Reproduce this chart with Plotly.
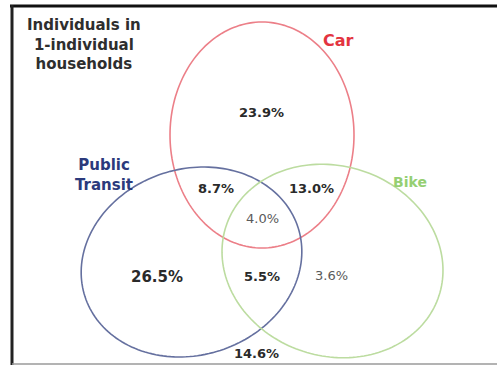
import numpy as np
import plotly.graph_objects as go

# ---- data ----
sets = ["Car", "Public<br>Transit", "Bike"]
region_labels = ["Car only", "Transit only", "Bike only", "Car+Transit", "Car+Bike",
                 "Transit+Bike", "All three", "None"]
region_values = [23.9, 26.5, 3.6, 8.7, 13.0, 5.5, 4.0, 14.6]
title_text = "Individuals in<br>1-individual<br>households"

# ---- layout (pixel coordinates) ----
W, H = 497, 366
ell_cx = [262, 191.5, 332.5]
ell_cy = [135, 262, 261]
ell_a = [92, 112, 112]
ell_b = [113, 93, 95]
ell_rot = [0, -18, 18]
ell_color = ["#ec7f88", "#65709f", "#bcdca0"]
set_color = ["#e3343f", "#2b3a7c", "#95cf72"]
set_pos = [(338, 40), (104, 175), (410, 182)]
set_size = [16, 15, 14]

region_pos = [(261, 112), (157, 277), (331, 275), (216, 188), (311, 188),
              (262, 276), (262, 218), (256, 353)]
region_bold = [True, True, False, True, True, True, False, True]
region_size = [13, 15, 13, 13, 13, 13, 13, 13]

fig = go.Figure()
fig.add_trace(go.Scatter(x=[0, W], y=[0, H], mode="markers",
                         marker=dict(opacity=0), hoverinfo="skip", showlegend=False))

shapes = []
t = np.linspace(0, 2 * np.pi, 181)
for cx, cy, a, b, rot, col in zip(ell_cx, ell_cy, ell_a, ell_b, ell_rot, ell_color):
    th = np.deg2rad(rot)
    xs = cx + a * np.cos(t) * np.cos(th) - b * np.sin(t) * np.sin(th)
    ys = cy + a * np.cos(t) * np.sin(th) + b * np.sin(t) * np.cos(th)
    path = "M " + " L ".join(f"{x:.2f},{y:.2f}" for x, y in zip(xs, ys)) + " Z"
    shapes.append(dict(type="path", path=path, line=dict(color=col, width=1.6),
                       xref="x", yref="y"))

# frame
shapes.append(dict(type="line", x0=10, x1=W, y0=6, y1=6, line=dict(color="#111", width=3)))
shapes.append(dict(type="line", x0=12, x1=12, y0=5, y1=365, line=dict(color="#222", width=3)))
shapes.append(dict(type="line", x0=12, x1=W, y0=364, y1=364, line=dict(color="#9a9a9a", width=1.5)))

ann = []
font_fam = "DejaVu Sans"
ann.append(dict(x=84, y=44, text="<b>" + title_text + "</b>", showarrow=False,
                font=dict(family=font_fam, size=15, color="#2e2e2e"), align="center"))
for name, (x, y), col, sz in zip(sets, set_pos, set_color, set_size):
    ann.append(dict(x=x, y=y, text="<b>" + name + "</b>", showarrow=False,
                    font=dict(family=font_fam, size=sz, color=col), align="center"))
for v, (x, y), bold, sz in zip(region_values, region_pos, region_bold, region_size):
    txt = f"{v:.1f}%"
    if bold:
        txt = "<b>" + txt + "</b>"
    ann.append(dict(x=x, y=y, text=txt, showarrow=False,
                    font=dict(family=font_fam, size=sz, color="#2a2a2a" if bold else "#5a5a5a")))

fig.update_layout(
    width=W, height=H, margin=dict(l=0, r=0, t=0, b=0),
    paper_bgcolor="white", plot_bgcolor="white",
    xaxis=dict(range=[0, W], visible=False, fixedrange=True),
    yaxis=dict(range=[H, 0], visible=False, fixedrange=True),
    shapes=shapes, annotations=ann, showlegend=False,
)
fig.write_html("out.html", config={"displayModeBar": False},
               post_script="document.body.style.margin='0';document.body.style.overflow='hidden';")
